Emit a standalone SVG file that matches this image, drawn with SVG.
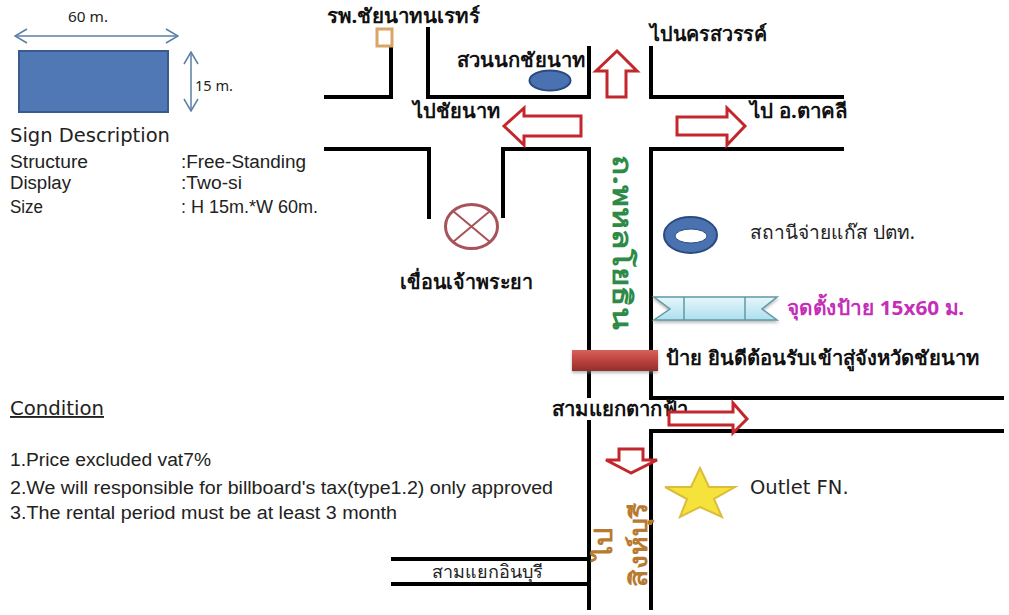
<svg xmlns="http://www.w3.org/2000/svg" width="1009" height="615" viewBox="0 0 1009 615">
<defs>
<marker id="op" viewBox="0 0 14 16" refX="13" refY="8" markerWidth="14" markerHeight="16" markerUnits="userSpaceOnUse" orient="auto-start-reverse"><path d="M1 1L13 8L1 15" fill="none" stroke="#5b7fa6" stroke-width="1.5"/></marker>
<linearGradient id="red" x1="0" y1="0" x2="0" y2="1"><stop offset="0" stop-color="#d9615c"/><stop offset="0.55" stop-color="#b8403c"/><stop offset="1" stop-color="#8e2f2c"/></linearGradient>
<linearGradient id="ban" x1="0" y1="0" x2="0" y2="1"><stop offset="0" stop-color="#e6f6fb"/><stop offset="1" stop-color="#aedfee"/></linearGradient>
<filter id="sh" x="-10%" y="-30%" width="120%" height="170%"><feDropShadow dx="0" dy="2" stdDeviation="1.5" flood-color="#888" flood-opacity="0.6"/></filter>
</defs>
<style>
text{font-family:"Noto Sans","DejaVu Sans",sans-serif;fill:#222}
.v{font-size:18px;font-family:"Liberation Sans","Noto Sans",sans-serif}
.d{font-family:"DejaVu Sans",sans-serif}
.t{font-weight:700;font-size:20px;fill:#111}
.road{fill:none;stroke:#000;stroke-width:4}
.arr{fill:#fff;stroke:#c3262b;stroke-width:3}
.dim{fill:none;stroke:#5b7fa6;stroke-width:1.5}
.g{font-weight:700;fill:#2e8b47;font-size:26px}
.o{font-weight:700;fill:#b87a30;font-size:24px}
</style>
<rect width="1009" height="615" fill="#fff"/>
<g id="connectors">
<path class="road" d="M324 97H391V47"/>
<path class="road" d="M428 27V97H589V46"/>
<path class="road" d="M651 46V97H844"/>
<path class="road" d="M324 149H429V219"/>
<path class="road" d="M503 218V149H589V398M589 420V610"/>
<path class="road" d="M844 149H651V398H1004"/>
<path class="road" d="M1004 431H651V610"/>
<path class="road" d="M391 559H589M391 584H589"/>
<path class="dim" d="M15 36H178" marker-start="url(#op)" marker-end="url(#op)"/>
<path class="dim" d="M191 52V111" marker-start="url(#op)" marker-end="url(#op)"/>
</g>
<g id="sign-shape"><rect x="19" y="51" width="149" height="61" fill="#4f78b5" stroke="#3a5a8c" stroke-width="2"/></g>
<g id="sign-text">
<text x="68" y="22" style="font-size:15px" textLength="40" lengthAdjust="spacingAndGlyphs">60 m.</text>
<text x="195" y="91" style="font-size:15px" textLength="38" lengthAdjust="spacingAndGlyphs">15 m.</text>
<text x="10" y="142" class="d" style="font-size:19.5px" textLength="160" lengthAdjust="spacingAndGlyphs">Sign Description</text>
<text x="10" y="168" class="v" textLength="78" lengthAdjust="spacingAndGlyphs">Structure</text><text x="181" y="168" class="v" textLength="125" lengthAdjust="spacingAndGlyphs">:Free-Standing</text>
<text x="10" y="189" class="v" textLength="61" lengthAdjust="spacingAndGlyphs">Display</text><text x="181" y="189" class="v" textLength="61" lengthAdjust="spacingAndGlyphs">:Two-si</text>
<text x="10" y="213" class="v" textLength="33" lengthAdjust="spacingAndGlyphs">Size</text><text x="181" y="213" class="v" textLength="137" lengthAdjust="spacingAndGlyphs">: H 15m.*W 60m.</text>
</g>
<g id="conditions">
<text x="10" y="415" class="d" style="font-size:19px;text-decoration:underline" textLength="94" lengthAdjust="spacingAndGlyphs">Condition</text>
<text x="10" y="466" class="v" textLength="201" lengthAdjust="spacingAndGlyphs">1.Price excluded vat7%</text>
<text x="10" y="494" class="v" textLength="543" lengthAdjust="spacingAndGlyphs">2.We will responsible for billboard's tax(type1.2) only approved</text>
<text x="10" y="519" class="v" textLength="387" lengthAdjust="spacingAndGlyphs">3.The rental period must be at least 3 month</text>
</g>
<g id="hospital"><rect x="377" y="29" width="15" height="17" fill="#fff" stroke="#d8a566" stroke-width="3"/><text x="327" y="23" class="t" textLength="153" lengthAdjust="spacingAndGlyphs">รพ.ชัยนาทนเรทร์</text></g>
<g id="bird-park"><ellipse cx="550" cy="80.5" rx="20.5" ry="10" fill="#4a72b0" stroke="#2b4a80" stroke-width="2"/><text x="457" y="67" class="t" textLength="128" lengthAdjust="spacingAndGlyphs">สวนนกชัยนาท</text></g>
<g id="labels">
<text x="650" y="41" class="t" textLength="117" lengthAdjust="spacingAndGlyphs">ไปนครสวรรค์</text>
<text x="413" y="118" class="t" textLength="87" lengthAdjust="spacingAndGlyphs">ไปชัยนาท</text>
<text x="750" y="118" class="t" textLength="97" lengthAdjust="spacingAndGlyphs">ไป อ.ตาคลี</text>
</g>
<g id="dam"><ellipse cx="471.5" cy="226.5" rx="26" ry="22" fill="#fff" stroke="#a8525a" stroke-width="3"/><path d="M453 211L490 242M490 211L453 242" stroke="#a8525a" stroke-width="2"/><text x="400" y="289" class="t" textLength="133" lengthAdjust="spacingAndGlyphs">เขื่อนเจ้าพระยา</text></g>
<g id="gas"><ellipse cx="690.5" cy="235" rx="26.5" ry="18" fill="#4a72b0" stroke="#2b4a80" stroke-width="2"/><ellipse cx="691" cy="236" rx="16" ry="7" fill="#fff" stroke="#2b4a80"/><text x="750" y="239" style="font-size:19px;fill:#222" textLength="165" lengthAdjust="spacingAndGlyphs">สถานีจ่ายแก๊ส ปตท.</text></g>
<g id="billboard"><path d="M654 297H777L762 309L777 320H654L670 309Z" fill="url(#ban)" stroke="#5f9aa6" stroke-width="1.5" filter="url(#sh)"/><path d="M684 297V320M745 297V320" stroke="#5f9aa6" stroke-width="1.5"/><text x="787" y="315" class="t" style="fill:#c42fb8" textLength="177" lengthAdjust="spacingAndGlyphs">จุดตั้งป้าย 15x60 ม.</text></g>
<g id="welcome"><rect x="572" y="350" width="86" height="21" fill="url(#red)" filter="url(#sh)"/><text x="666" y="365" class="t" textLength="313" lengthAdjust="spacingAndGlyphs">ป้าย ยินดีต้อนรับเข้าสู่จังหวัดชัยนาท</text></g>
<g id="junction"><text x="552" y="416" class="t" textLength="136" lengthAdjust="spacingAndGlyphs">สามแยกตากฟ้า</text></g>
<g id="arrows">
<path class="arr" d="M617 51L637 71H626V97H607V71H596Z"/>
<path class="arr" d="M504 126L524 108V116H581V136H524V145Z"/>
<path class="arr" d="M745 126L727 108V117H677V135H727V145Z"/>
<path class="arr" d="M747 419L733 403V412H669V425H733V433Z"/>
<path class="arr" d="M631 473L606 460H619V449H643V460H657Z"/>
</g>
<g id="outlet"><path d="M700 468L709 487H735L714 499L722 517L700 507L680 517L687 499L665 487H691Z" fill="#f5e23a" stroke="#dcbc3a" stroke-width="2"/><text x="750" y="494" class="d" style="font-size:19.5px">Outlet FN.</text></g>
<g id="inburi"><text x="432" y="578" style="font-size:18px" textLength="111" lengthAdjust="spacingAndGlyphs">สามแยกอินบุรี</text></g>
<g id="road-labels">
<text transform="translate(613,155) rotate(90)" class="g" textLength="175" lengthAdjust="spacingAndGlyphs">ถ.พหลโยธิน</text>
<text transform="translate(612,560) rotate(-90)" class="o" textLength="32" lengthAdjust="spacingAndGlyphs">ไป</text>
<text transform="translate(647,587) rotate(-90)" class="o" textLength="84" lengthAdjust="spacingAndGlyphs">สิงห์บุรี</text>
</g>
</svg>
